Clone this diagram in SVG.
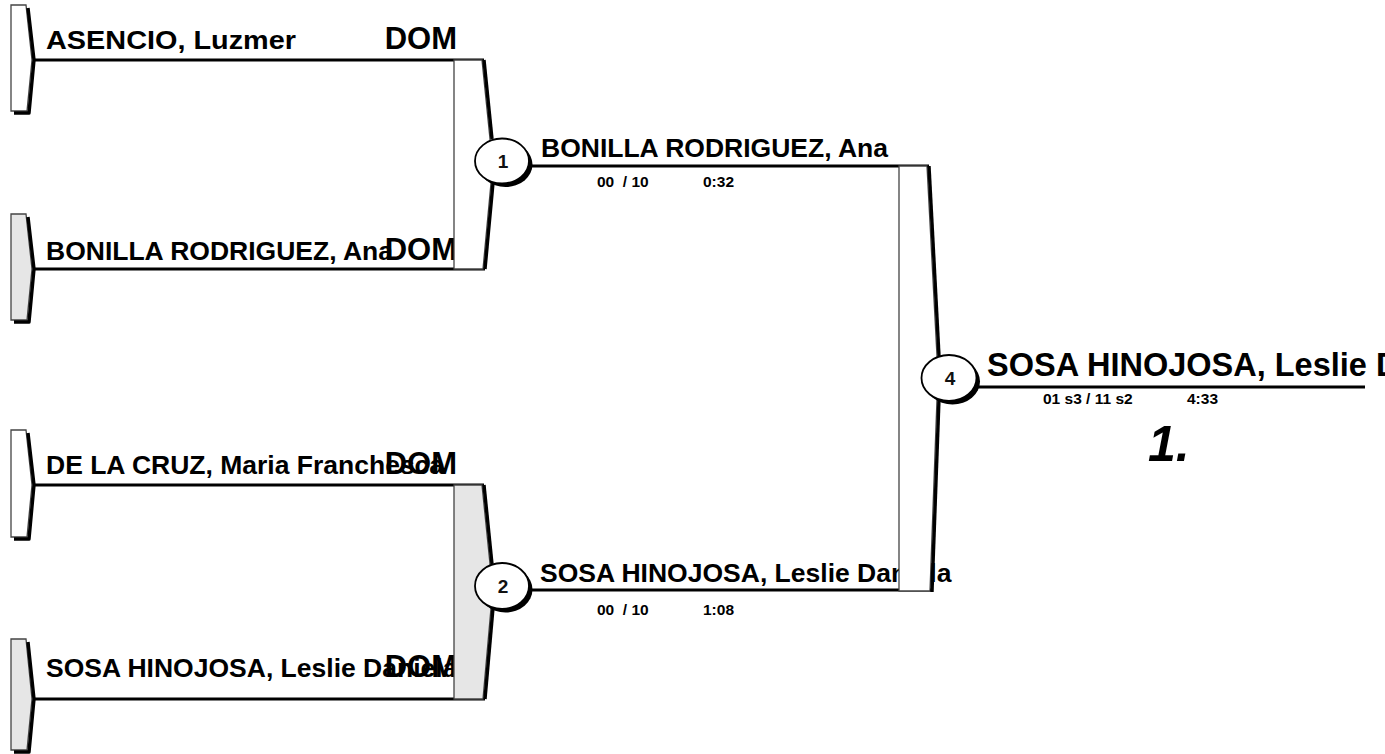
<svg xmlns="http://www.w3.org/2000/svg" width="1385" height="754" viewBox="0 0 1385 754">
<style>
.bg{fill:#ffffff}
.nm{font-family:"Liberation Sans",Arial,sans-serif;font-weight:bold;font-size:26.5px;fill:#000}
.nm2{font-family:"Liberation Sans",Arial,sans-serif;font-weight:bold;font-size:26.5px;fill:#000}
.ctry{font-family:"Liberation Sans",Arial,sans-serif;font-weight:bold;font-size:31px;fill:#000}
.sc{font-family:"Liberation Sans",Arial,sans-serif;font-weight:bold;font-size:15.5px;fill:#000;white-space:pre}
.num{font-family:"Liberation Sans",Arial,sans-serif;font-weight:bold;font-size:19px;fill:#111;text-anchor:middle}
.big{font-family:"Liberation Sans",Arial,sans-serif;font-weight:bold;font-size:32.5px;fill:#000}
.rank{font-family:"Liberation Sans",Arial,sans-serif;font-weight:bold;font-style:italic;font-size:50px;fill:#000}
.barW{fill:#ffffff;stroke:#444;stroke-width:1.3}
.barG{fill:#e6e6e6;stroke:#444;stroke-width:1.3}
.shadow{fill:none;stroke:#000;stroke-width:3.4;stroke-linejoin:round}
.ln{fill:none;stroke:#000;stroke-width:3.2}
.circS{fill:#000}
.circ{fill:#fff;stroke:#000;stroke-width:1.8}
</style>
<rect class="bg" x="0" y="0" width="1385" height="754"/>

<g id="connectors">
  <line class="ln" x1="33" y1="60" x2="484" y2="60"/>
  <line class="ln" x1="33" y1="269" x2="485" y2="269"/>
  <line class="ln" x1="33" y1="485" x2="484" y2="485"/>
  <line class="ln" x1="33" y1="699" x2="485" y2="699"/>
  <line class="ln" x1="528" y1="166" x2="929" y2="166"/>
  <line class="ln" x1="528" y1="590" x2="932" y2="590"/>
  <line class="ln" x1="975" y1="387" x2="1365" y2="387"/>
</g>

<g id="entry1">
  <path class="barW" d="M11,5 L26,5 L32,60 L27,111 L11,111 Z"/>
  <path class="shadow" d="M28,8 L34,60 L29,113 L14,113"/>
  <text class="nm" x="46" y="49" textLength="250" lengthAdjust="spacingAndGlyphs">ASENCIO, Luzmer</text>
  <text class="ctry" x="457" y="49" text-anchor="end">DOM</text>
</g>
<g id="entry2">
  <path class="barG" d="M11,214 L26,214 L32,269 L27,320 L11,320 Z"/>
  <path class="shadow" d="M28,217 L34,269 L29,322 L14,322"/>
  <text class="nm" x="46" y="260">BONILLA RODRIGUEZ, Ana</text>
  <text class="ctry" x="457" y="260" text-anchor="end">DOM</text>
</g>
<g id="entry3">
  <path class="barW" d="M11,430 L26,430 L32,485 L27,537 L11,537 Z"/>
  <path class="shadow" d="M28,433 L34,485 L29,539 L14,539"/>
  <text class="nm" x="46" y="474">DE LA CRUZ, Maria Franchesca</text>
  <text class="ctry" x="457" y="474" text-anchor="end">DOM</text>
</g>
<g id="entry4">
  <path class="barG" d="M11,639 L26,639 L32,699 L27,750 L11,750 Z"/>
  <path class="shadow" d="M28,642 L34,699 L29,752 L14,752"/>
  <text class="nm" x="46" y="677">SOSA HINOJOSA, Leslie Daniela</text>
  <text class="ctry" x="457" y="677" text-anchor="end">DOM</text>
</g>

<g id="match1">
  <path class="barW" d="M454,60 L482,60 L490,139 L491,183 L483,269 L454,269 Z"/>
  <path class="shadow" d="M484,60 L492,139"/>
  <path class="shadow" d="M493,183 L485,269"/>
  <ellipse class="circS" cx="505.5" cy="164.5" rx="27" ry="22.5"/>
  <ellipse class="circ" cx="502" cy="161" rx="27" ry="22.5"/>
  <text class="num" x="503" y="168">1</text>
  <text class="nm2" x="541" y="157">BONILLA RODRIGUEZ, Ana</text>
  <text class="sc" x="597" y="187">00  / 10</text>
  <text class="sc" x="703" y="187">0:32</text>
</g>

<g id="match2">
  <path class="barG" d="M454,485 L482,485 L490,564 L491,608 L483,699 L454,699 Z"/>
  <path class="shadow" d="M484,485 L492,564"/>
  <path class="shadow" d="M493,608 L485,699"/>
  <ellipse class="circS" cx="505.5" cy="589.5" rx="27" ry="23"/>
  <ellipse class="circ" cx="502" cy="586" rx="27" ry="23"/>
  <text class="num" x="503" y="593">2</text>
  <text class="nm2" x="540" y="582">SOSA HINOJOSA, Leslie Daniela</text>
  <text class="sc" x="597" y="615">00  / 10</text>
  <text class="sc" x="703" y="615">1:08</text>
</g>

<g id="match4">
  <path class="barW" d="M899,166 L927,166 L937,356 L937,399 L930,591 L899,591 Z"/>
  <path class="shadow" d="M929,166 L939,356"/>
  <path class="shadow" d="M939,399 L932,592"/>
  <ellipse class="circS" cx="952.5" cy="381.5" rx="27.5" ry="23"/>
  <ellipse class="circ" cx="949" cy="378" rx="27.5" ry="23"/>
  <text class="num" x="950" y="385">4</text>
  <text class="big" x="987" y="376">SOSA HINOJOSA, Leslie Daniela</text>
  <text class="sc" x="1043" y="404">01 s3 / 11 s2</text>
  <text class="sc" x="1187" y="404">4:33</text>
  <text class="rank" x="1148" y="461">1.</text>
</g>
</svg>
